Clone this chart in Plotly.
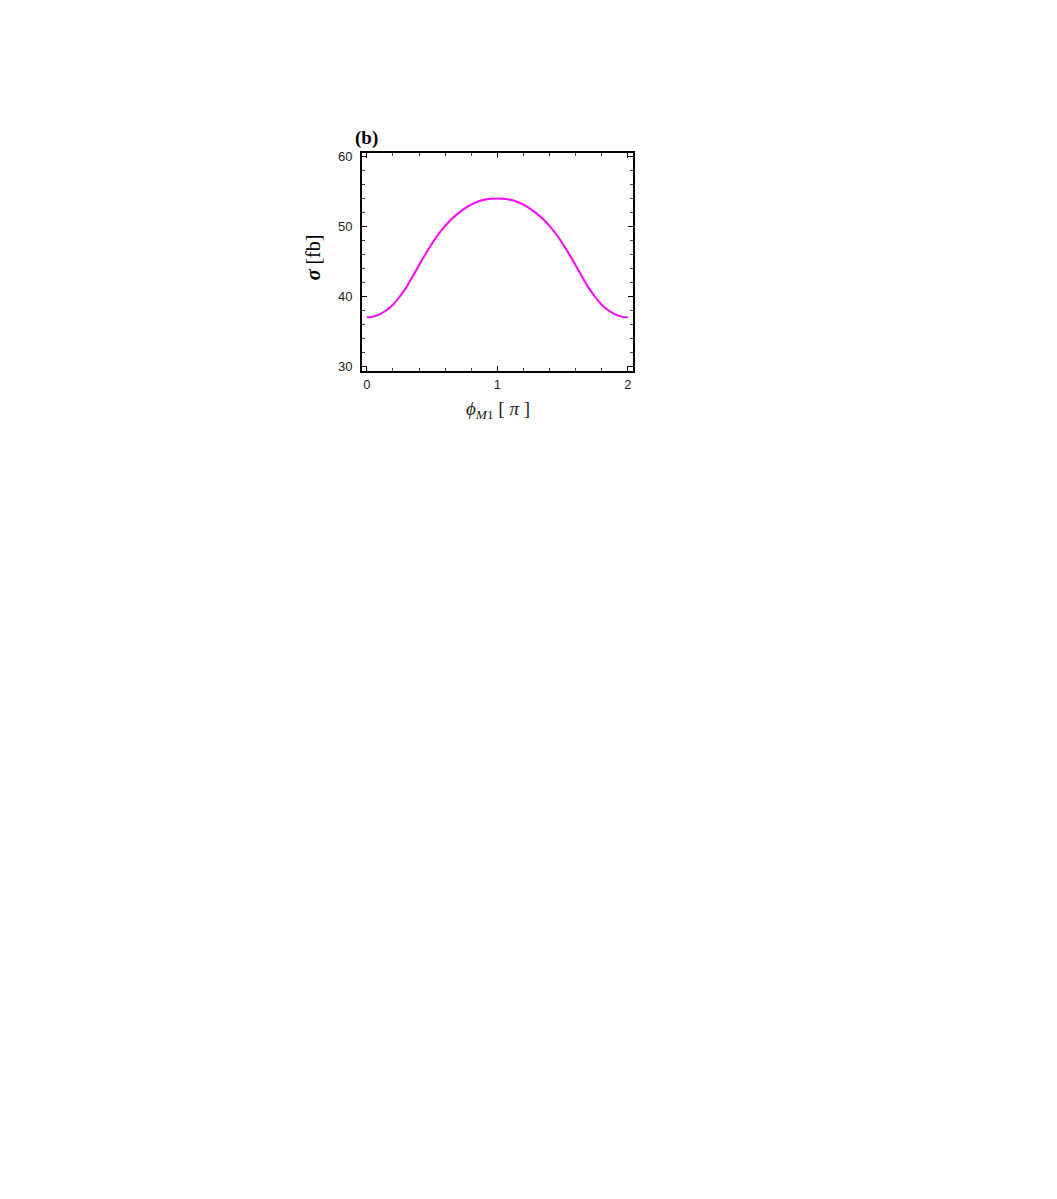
from plotly import graph_objects as go

# phi_M1 in units of pi, cross section in fb
phi = [0.00, 0.05, 0.10, 0.15, 0.20, 0.25, 0.30, 0.35, 0.40, 0.45, 0.50,
       0.55, 0.60, 0.65, 0.70, 0.75, 0.80, 0.85, 0.90, 0.95, 1.00,
       1.05, 1.10, 1.15, 1.20, 1.25, 1.30, 1.35, 1.40, 1.45, 1.50,
       1.55, 1.60, 1.65, 1.70, 1.75, 1.80, 1.85, 1.90, 1.95, 2.00]
sigma = [37.0, 37.1, 37.45, 38.0, 38.8, 39.9, 41.2, 42.8, 44.45, 46.05, 47.55,
         48.9, 50.05, 51.03, 51.85, 52.53, 53.08, 53.5, 53.78, 53.92, 53.96,
         53.92, 53.78, 53.5, 53.08, 52.53, 51.85, 51.03, 50.05, 48.9, 47.55,
         46.05, 44.45, 42.8, 41.2, 39.9, 38.8, 38.0, 37.45, 37.1, 37.0]

x_ticks = [0, 1, 2]
y_ticks = [30, 40, 50, 60]

serif = "Liberation Serif"
sans = "Liberation Sans"

fig = go.Figure()
fig.add_trace(go.Scatter(x=phi, y=sigma, mode="lines",
                         line=dict(color="#ff00ff", width=2, shape="spline", smoothing=1, simplify=False),
                         showlegend=False))

axis_style = dict(showgrid=False, zeroline=False, showline=True, linecolor="black", linewidth=2,
                  mirror="allticks", ticks="inside", ticklen=5, tickwidth=1, tickcolor="black",
                  tickfont=dict(family=sans, size=13, color="#222"))

fig.update_xaxes(range=[-0.037, 2.04], tickvals=x_ticks, ticktext=[str(t) for t in x_ticks],
                 minor=dict(ticks="inside", ticklen=3, dtick=0.2, tick0=0, tickcolor="#444"),
                 **axis_style)
fig.update_yaxes(range=[29.33, 60.47], tickvals=y_ticks, ticktext=[str(t) for t in y_ticks],
                 minor=dict(ticks="inside", ticklen=3, dtick=2, tick0=30, tickcolor="#444"),
                 ticklabelstandoff=5, **axis_style)

fig.update_layout(autosize=False, width=1057, height=1199,
                  paper_bgcolor="white", plot_bgcolor="white",
                  margin=dict(l=354, r=432, t=145, b=836))

fig.add_annotation(x=0.015, y=1.069, xref="paper", yref="paper", showarrow=False,
                   xanchor="center", yanchor="middle",
                   text="<b>(b)</b>", font=dict(family=serif, size=19, color="black"))
fig.add_annotation(x=0.5, y=-0.179, xref="paper", yref="paper", showarrow=False,
                   xanchor="center", yanchor="middle",
                   text="<i>ϕ</i><sub><i>M</i>1</sub> [ <i>π</i> ]",
                   font=dict(family=serif, size=19, color="#222"))
fig.add_annotation(x=-0.182, y=0.52, xref="paper", yref="paper", showarrow=False, textangle=-90,
                   xanchor="center", yanchor="middle",
                   text="<b><i>σ</i></b> [fb]", font=dict(family=serif, size=20, color="black"))

fig.write_html("out.html")
